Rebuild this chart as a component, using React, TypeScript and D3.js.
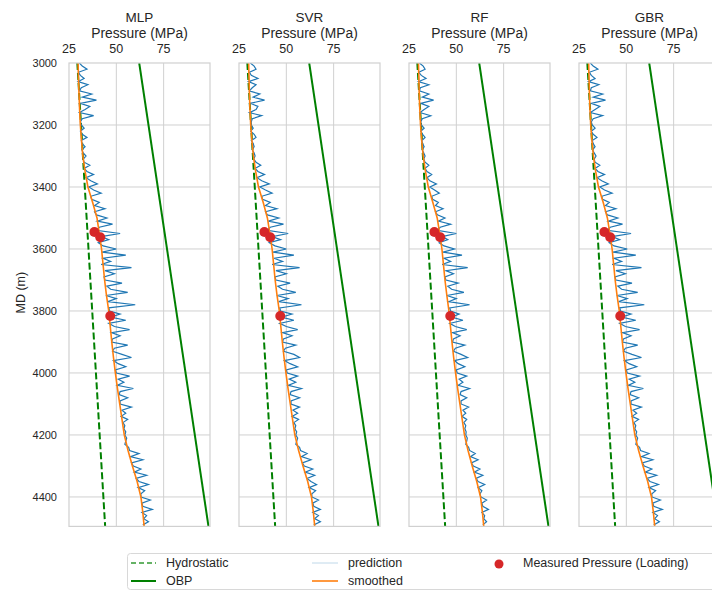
import React from "react";
import * as d3 from "d3";

const models = ["MLP", "SVR", "RF", "GBR"];
const xTicks = [25, 50, 75];
const yTicks = [3000, 3200, 3400, 3600, 3800, 4000, 4200, 4400];

// prediction sampled every 10 m from 3000 m
const predMLP = [
  30.5, 32, 34.5, 30, 31, 33, 29.8, 35, 31.5, 30.5,
  37, 32, 39.5, 31, 36, 33.5, 30.5, 38, 32, 31,
  31.5, 33, 31, 32, 34.5, 31.5, 32, 33.5, 31.8, 32.5,
  34, 32.5, 33, 36, 33, 34.5, 38, 34, 36.5, 40,
  35.5, 38, 42, 36.5, 37, 41, 38.5, 44, 38.5, 39.5,
  45, 40, 48, 41, 39.5, 52, 42, 46, 40.5, 43,
  50, 42.5, 55, 43, 47, 42, 58, 44, 49, 43.5,
  44, 53, 45, 47, 56, 44.5, 50, 45.5, 60, 46,
  46.5, 52, 47, 55, 46, 49, 57, 47.5, 52, 48,
  47.5, 56, 49, 48, 53, 58, 48.5, 51, 55, 49.5,
  50, 57, 51, 54, 50.5, 59, 52, 51.5, 56, 52,
  52, 58, 53, 55, 52.5, 56, 53.5, 54.5, 54, 55,
  54.5, 55.5, 55, 54.5, 56.5, 57, 62, 57.5, 64, 58,
  59, 63, 59.5, 66, 60.5, 62, 67, 61.5, 65, 63,
  63, 68, 63.5, 64, 69, 63.5, 66, 64.5, 67, 64,
];
const predSVR = [
  31, 33, 34, 30.5, 31.5, 35, 30, 34, 32, 30.5,
  36, 32.5, 38.5, 31, 35, 34, 30.5, 37, 32, 31.5,
  31.5, 32.5, 31.2, 33, 34, 31.5, 32.5, 33, 32, 33,
  33.5, 32.8, 34, 36.5, 33.5, 35, 38.5, 34.5, 37, 41,
  36, 39, 42.5, 37, 37.5, 41.5, 39, 45, 39, 40,
  46, 40.5, 48.5, 41.5, 40, 51, 42.5, 47, 41, 44,
  50, 43, 54, 43.5, 48, 42.5, 57, 44.5, 50, 44,
  44.5, 52, 45.5, 48, 55, 45, 51, 46, 58, 46.5,
  47, 53, 47.5, 54, 46.5, 50, 56, 48, 53, 48.5,
  48, 55, 49.5, 48.5, 54, 57, 49, 52, 56, 50,
  50.5, 56, 51.5, 55, 51, 58, 52.5, 52, 57, 52.5,
  52.5, 57, 53.5, 56, 53, 56.5, 54, 55, 54.5, 55.5,
  55, 56, 55.5, 55, 57, 57.5, 61, 58, 63, 58.5,
  59.5, 64, 60, 65, 61, 63, 66, 62, 65.5, 63.5,
  63.5, 67, 64, 64.5, 68, 64, 67, 65, 68, 64.5,
];
const predRF = [
  30.5, 32.5, 33.5, 30.2, 31.5, 34, 30, 35.5, 31, 30.5,
  35.5, 32, 38, 31.2, 35.5, 33, 30.8, 36.5, 32, 31.2,
  31.5, 33, 31.2, 32.2, 33.5, 31.8, 32.2, 33, 32, 32.8,
  33.5, 32.8, 33.5, 35.5, 33.5, 34.5, 37, 34.5, 36, 39.5,
  36, 38.5, 41, 37, 37.5, 40.5, 39, 43, 39, 40,
  44, 40.5, 47, 41.5, 40, 50, 42.5, 45.5, 41, 43.5,
  49, 43, 53, 43.5, 47, 42.5, 56, 44.5, 48.5, 44,
  44.5, 51, 45.5, 47.5, 54, 45, 50, 46, 57, 46.5,
  47, 51.5, 47.5, 53.5, 46.5, 49.5, 55.5, 48, 52, 48.5,
  48, 54.5, 49.5, 48.5, 52.5, 56, 49, 51, 54.5, 50,
  50.5, 55.5, 51.5, 53.5, 51, 57, 52.5, 52, 55.5, 52.5,
  52.5, 56.5, 53.5, 55, 53, 55.5, 54, 55, 54.5, 55.2,
  55, 55.8, 55.5, 55, 56.5, 57, 60, 57.5, 61.5, 58,
  59, 62.5, 59.5, 64, 60.5, 61.5, 65, 61.5, 63.5, 62.5,
  63, 66, 63.5, 64, 67, 63.5, 65, 64.5, 66, 64,
];
const predGBR = [
  31, 32.5, 35, 30.5, 31.5, 33.5, 30, 35.5, 31.5, 31,
  37.5, 32.5, 39, 31.5, 36, 33.5, 31, 37.5, 32.5, 31.5,
  32, 33.5, 31.5, 32.5, 34.5, 32, 32.5, 33.5, 32.2, 33,
  34, 33, 33.5, 36, 33.5, 35, 38.5, 34.5, 37, 40.5,
  36, 38.5, 42.5, 37, 37.5, 41, 39, 44.5, 39, 40,
  45.5, 40.5, 48, 41.5, 40, 52.5, 42.5, 46.5, 41, 43.5,
  50.5, 43, 55, 43.5, 47.5, 42.5, 58, 44.5, 49.5, 44,
  44.5, 53, 45.5, 47.5, 56, 45, 50.5, 46, 59.5, 46.5,
  47, 52.5, 47.5, 55, 46.5, 49.5, 57, 48, 52.5, 48.5,
  48, 56, 49.5, 48.5, 53, 58, 49, 51.5, 55.5, 50,
  50.5, 57, 51.5, 54.5, 51, 59, 52.5, 52, 56.5, 52.5,
  52.5, 58, 53.5, 55.5, 53, 56.5, 54, 55, 54.5, 55.5,
  55, 56, 55.5, 55, 57, 57.5, 62, 58, 64, 58.5,
  59.5, 63.5, 60, 66, 61, 62.5, 67, 62, 65.5, 63.5,
  63.5, 68, 64, 64.5, 69, 64, 66.5, 65, 67.5, 64.5,
];

const smoothMD = [
  3000, 3050, 3100, 3150, 3200, 3250, 3300, 3350, 3400, 3450, 3500, 3550, 3600,
  3650, 3700, 3750, 3800, 3850, 3900, 3950, 4000, 4050, 4100, 4150, 4200, 4250,
  4300, 4350, 4400, 4450, 4495,
];
const smoothMLP = [
  29.8, 30.0, 30.3, 30.6, 31.0, 31.6, 32.3, 33.5, 35.0, 37.5, 39.8, 41.0, 42.2,
  43.0, 43.8, 44.8, 46.0, 46.8, 47.6, 48.5, 49.5, 50.6, 51.8, 53.0, 54.2, 56.2,
  58.5, 61.0, 63.0, 64.0, 64.7,
];
const smoothSVR = [
  30.1, 30.3, 30.5, 30.8, 31.2, 31.8, 32.6, 33.8, 35.3, 37.8, 40.0, 41.3, 42.5,
  43.3, 44.1, 45.1, 46.3, 47.1, 47.9, 48.8, 49.8, 50.9, 52.1, 53.3, 54.5, 56.5,
  58.8, 61.3, 63.3, 64.3, 65.0,
];
const smoothRF = [
  30.0, 30.2, 30.4, 30.7, 31.1, 31.7, 32.5, 33.7, 35.2, 37.6, 39.9, 41.2, 42.4,
  43.2, 44.0, 45.0, 46.1, 46.9, 47.7, 48.6, 49.6, 50.7, 51.9, 53.1, 54.3, 56.2,
  58.4, 60.8, 62.8, 63.8, 64.5,
];
const smoothGBR = [
  30.1, 30.3, 30.5, 30.8, 31.2, 31.8, 32.6, 33.8, 35.3, 37.8, 40.0, 41.3, 42.5,
  43.3, 44.1, 45.1, 46.3, 47.1, 47.9, 48.8, 49.8, 50.9, 52.1, 53.3, 54.5, 56.5,
  58.8, 61.3, 63.3, 64.3, 65.0,
];

const lineMD = [3000, 4495];
const hydrostatic = [29.4, 44.1];
const obp = [62.1, 98.7];

const measuredMD = [3545, 3562, 3816];
const measuredP = [38.4, 41.5, 46.8];

const predictions = [predMLP, predSVR, predRF, predGBR];
const smoothed = [smoothMLP, smoothSVR, smoothRF, smoothGBR];

const W = 712;
const H = 592;
const left0 = 69;
const step = 170;
const pw = 141;
const top = 63;
const bottom = 526.4;

const BLUE = "#1f77b4";
const ORANGE = "#ff7f0e";
const GREEN = "#008000";
const RED = "#d62728";
const GRID = "#d0d0d0";
const TXT = "#262626";
const FONT = "'Liberation Sans', Arial, sans-serif";

export default function App() {
  const y = d3.scaleLinear().domain([3000, 4495]).range([top, bottom]);
  const x = d3.scaleLinear().domain([25, 99.5]).range([0, pw]);
  const line = d3
    .line<[number, number]>()
    .x((d) => x(d[1]))
    .y((d) => y(d[0]));

  return (
    <svg
      width={W}
      height={H}
      style={{ position: "absolute", left: 0, top: 0, background: "#fff" }}
      fontFamily={FONT}
    >
      <defs>
        <clipPath id="pclip">
          <rect x={0} y={top} width={pw} height={bottom - top} />
        </clipPath>
      </defs>
      {yTicks.map((t) => (
        <text
          key={t}
          x={left0 - 12}
          y={y(t)}
          dy="0.35em"
          textAnchor="end"
          fontSize={11}
          fill={TXT}
        >
          {t}
        </text>
      ))}
      <text
        transform={`translate(25,${(top + bottom) / 2 - 2}) rotate(-90)`}
        textAnchor="middle"
        fontSize={12.5}
        fill={TXT}
      >
        MD (m)
      </text>
      {models.map((m, k) => {
        const pred = predictions[k];
        const predPts: [number, number][] = pred.map((v, i) => [3000 + i * 10, v]);
        const smPts: [number, number][] = smoothed[k].map((v, i) => [smoothMD[i], v]);
        const hyPts: [number, number][] = lineMD.map((d, i) => [d, hydrostatic[i]]);
        const obPts: [number, number][] = lineMD.map((d, i) => [d, obp[i]]);
        return (
          <g key={m} transform={`translate(${left0 + k * step},0)`}>
            <text x={pw / 2} y={22} textAnchor="middle" fontSize={13.5} fill={TXT}>
              {m}
            </text>
            <text x={pw / 2} y={38} textAnchor="middle" fontSize={13.8} fill={TXT}>
              Pressure (MPa)
            </text>
            {xTicks.map((t) => (
              <text
                key={t}
                x={x(t)}
                y={53}
                textAnchor="middle"
                fontSize={12.5}
                fill={TXT}
              >
                {t}
              </text>
            ))}
            {xTicks.concat([100]).filter((t) => t > 25 && x(t) < pw).map((t) => (
              <line key={t} x1={x(t)} x2={x(t)} y1={top} y2={bottom} stroke={GRID} strokeWidth={1} />
            ))}
            {yTicks.filter((t) => t > 3000).map((t) => (
              <line key={t} x1={0} x2={pw} y1={y(t)} y2={y(t)} stroke={GRID} strokeWidth={1} />
            ))}
            <g clipPath="url(#pclip)">
              <path d={line(hyPts) || ""} fill="none" stroke={GREEN} strokeWidth={2} strokeDasharray="7,3" />
              <path d={line(obPts) || ""} fill="none" stroke={GREEN} strokeWidth={2} />
              <path d={line(predPts) || ""} fill="none" stroke={BLUE} strokeWidth={1.2} />
              <path d={line(smPts) || ""} fill="none" stroke={ORANGE} strokeWidth={1.6} />
              {measuredMD.map((d, i) => (
                <circle key={i} cx={x(measuredP[i])} cy={y(d)} r={5} fill={RED} />
              ))}
            </g>
            <rect x={0} y={top} width={pw} height={bottom - top} fill="none" stroke={GRID} strokeWidth={1.2} />
          </g>
        );
      })}
      <g fontSize={12.5} fill={TXT}>
        <rect x={127.5} y={553.5} width={600} height={36} rx={3} fill="#fff" stroke="#d8d8d8" />
        <line x1={131} x2={156} y1={563} y2={563} stroke={GREEN} strokeWidth={1.5} strokeDasharray="5,3" opacity={0.8} />
        <text x={166} y={563} dy="0.35em">Hydrostatic</text>
        <line x1={131} x2={156} y1={581} y2={581} stroke={GREEN} strokeWidth={2} />
        <text x={166} y={581} dy="0.35em">OBP</text>
        <line x1={312} x2={338} y1={563} y2={563} stroke={BLUE} strokeWidth={0.8} opacity={0.35} />
        <text x={348} y={563} dy="0.35em">prediction</text>
        <line x1={312} x2={338} y1={581} y2={581} stroke={ORANGE} strokeWidth={1.6} />
        <text x={348} y={581} dy="0.35em">smoothed</text>
        <circle cx={499} cy={564} r={4.5} fill={RED} />
        <text x={523} y={563} dy="0.35em">Measured Pressure (Loading)</text>
      </g>
    </svg>
  );
}
